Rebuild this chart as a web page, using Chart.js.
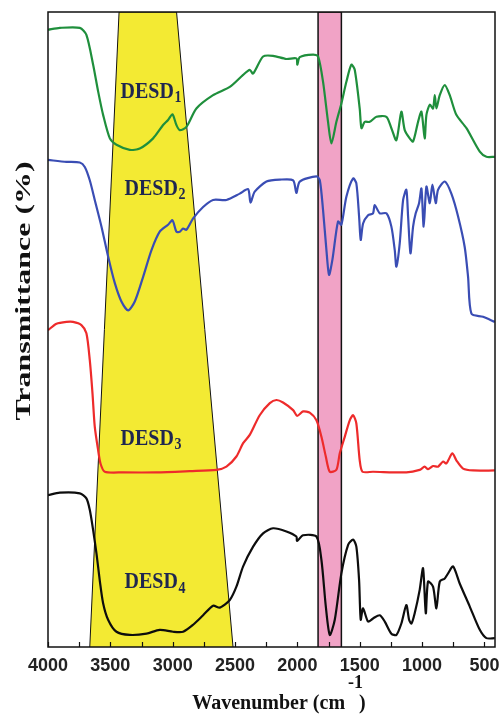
<!DOCTYPE html>
<html>
<head>
<meta charset="utf-8">
<script src="https://cdn.jsdelivr.net/npm/chart.js@4.4.0/dist/chart.umd.min.js"></script>
<style>
  html, body { margin: 0; padding: 0; background: #fff; }
  #wrap { width: 499px; height: 714px; }
</style>
</head>
<body>
<div id="wrap"><canvas id="grafico" width="499" height="714"></canvas></div>
<script>
// Espectros FTIR (transmitância deslocada, 0-100)
const wnDESD1 = [4000,3905,3745,3692,3638,3598,3558,3504,3451,3344,3264,3157,3077,3037,3002,2970,2943,2890,2810,2676,2542,2435,2382,2355,2275,2195,2088,2008,2000,1981,1874,1834,1794,1754,1727,1687,1647,1607,1567,1540,1500,1486,1460,1420,1366,1286,1246,1206,1166,1139,1099,1072,1032,1005,979,965,938,912,898,885,858,818,778,725,644,537,484,417];
const tDESD1  = [97.2,97.5,97.5,96.4,91.7,87.5,83.8,80.1,79.1,78.3,78.5,80.1,82.2,83.0,83.9,82.2,81.4,81.9,84.8,86.9,88.2,90.1,90.9,90.3,93.0,93.1,92.6,92.7,91.7,92.9,93.3,93.0,89.0,82.7,79.3,82.7,85.6,89.0,91.7,90.9,84.8,81.7,82.7,82.7,83.5,83.5,81.7,79.8,84.3,81.4,80.1,79.6,82.7,84.3,80.1,83.8,85.4,84.8,86.9,84.8,86.9,88.5,86.9,83.8,81.7,78.0,77.2,77.2];

const wnDESD2 = [4000,3852,3745,3705,3665,3625,3571,3518,3464,3411,3357,3304,3237,3170,3104,3037,3002,2970,2943,2916,2890,2836,2756,2676,2569,2462,2395,2376,2342,2248,2141,2034,2008,1981,1847,1820,1794,1767,1746,1719,1674,1647,1607,1553,1527,1505,1492,1473,1433,1393,1380,1339,1286,1246,1219,1206,1179,1152,1126,1112,1093,1072,1051,1024,1005,987,965,938,917,890,872,818,765,711,658,631,604,511,417];
const tDESD2  = [76.7,76.4,76.3,75.6,73.5,70.4,66.2,61.5,57.3,54.4,53.0,54.4,58.3,62.5,65.4,66.5,67.2,65.4,65.4,65.9,65.7,67.5,69.3,70.4,70.4,71.4,72.1,70.0,71.7,73.3,73.6,73.5,71.5,73.3,74.1,73.5,68.8,62.5,58.6,61.0,67.0,66.5,70.9,73.8,73.0,67.8,64.1,66.7,68.0,68.3,69.6,68.3,68.3,66.2,62.5,59.9,63.6,70.4,72.0,67.8,62.0,66.2,68.3,69.9,72.2,66.2,72.5,69.9,72.8,69.9,72.0,73.3,71.4,67.8,63.0,58.3,52.5,52.0,51.2];

const wnDESD3 = [4000,3932,3852,3799,3732,3692,3665,3643,3625,3598,3579,3545,3398,3130,2863,2649,2569,2489,2435,2382,2302,2221,2168,2115,2034,2002,1954,1901,1847,1807,1772,1740,1687,1660,1620,1580,1553,1527,1500,1478,1393,1126,1019,979,952,912,872,831,805,757,725,671,591,417];
const tDESD3  = [49.9,50.9,51.2,51.2,50.7,49.4,45.2,39.9,34.7,31.0,28.9,27.6,27.5,27.5,27.7,27.9,28.4,30.0,32.1,33.4,36.5,38.4,38.9,38.5,37.3,36.4,37.1,36.9,35.7,33.1,30.0,27.6,27.9,30.5,33.1,35.7,36.5,35.2,29.4,27.6,27.6,27.5,27.9,28.4,28.0,28.5,28.4,29.2,28.9,30.5,29.4,28.1,27.8,27.8];

const wnDESD4 = [4000,3905,3745,3692,3665,3638,3611,3585,3558,3518,3451,3344,3210,3104,2997,2916,2836,2756,2676,2622,2542,2489,2435,2355,2275,2195,2088,2008,2002,1954,1847,1807,1772,1740,1700,1647,1593,1553,1527,1505,1492,1473,1433,1393,1339,1299,1246,1206,1166,1126,1104,1085,1059,1019,992,970,952,912,885,858,818,791,751,698,618,537,484,417];
const tDESD4  = [23.9,24.3,24.2,23.4,21.6,18.4,14.7,10.5,6.9,4.3,2.4,1.9,2.1,2.7,2.4,2.4,3.5,5.0,6.5,6.2,7.4,9.5,12.7,15.8,17.9,18.7,18.2,17.4,16.7,17.6,17.4,13.7,6.4,1.9,4.3,11.6,16.1,16.9,15.8,10.5,4.3,6.1,4.0,4.5,5.0,4.0,2.1,1.9,3.7,6.6,4.3,3.7,5.3,9.0,12.4,5.3,10.3,9.5,6.1,10.3,10.8,11.6,12.7,10.0,6.4,2.7,1.4,1.4];

// Regiões destacadas (trapézio amarelo e faixa rosa)
const wnYellow = [3665,3430,2969,2516];
const tYellow  = [0,100,100,0];
const wnPink   = [1834,1834,1647,1647];
const tPink    = [0,100,100,0];

// Eixo x
const tickValues = [4000,3750,3500,3250,3000,2750,2500,2250,2000,1750,1500,1250,1000,750,500];

// Rótulos das curvas
const curveNames = ['DESD','DESD','DESD','DESD'];
const curveSubs  = ['1','2','3','4'];
const labelWn    = [3176,3144,3176,3144];
const labelT     = [87.4,72.1,32.8,10.2];

function pares(xs, ys) {
    return xs.map((x, i) => ({ x: x, y: ys[i] }));
}

function curva(xs, ys, cor) {
    return {
        data: pares(xs, ys),
        borderColor: cor,
        borderWidth: 2.2,
        pointRadius: 0,
        fill: false,
        tension: 0.25,
        order: 1
    };
}

// Plugin: moldura, ticks internos, rótulos e títulos dos eixos
const extras = {
    id: 'extras',
    afterDraw(chart) {
        const ctx = chart.ctx;
        const a = chart.chartArea;
        const xs = chart.scales.x;
        const ys = chart.scales.y;

        ctx.save();
        ctx.strokeStyle = '#111';
        ctx.lineWidth = 1.5;
        ctx.strokeRect(a.left, a.top, a.right - a.left, a.bottom - a.top);

        // ticks para dentro
        ctx.lineWidth = 1.2;
        tickValues.forEach(v => {
            const px = Math.round(xs.getPixelForValue(v)) + 0.5;
            ctx.beginPath();
            ctx.moveTo(px, a.bottom);
            ctx.lineTo(px, a.bottom - 5);
            ctx.stroke();
        });

        // rótulos DESD
        ctx.fillStyle = '#1e2650';
        ctx.textBaseline = 'middle';
        ctx.textAlign = 'left';
        curveNames.forEach((nome, i) => {
            const cx = xs.getPixelForValue(labelWn[i]);
            const cy = ys.getPixelForValue(labelT[i]);
            ctx.font = 'bold 20px "Liberation Serif"';
            const w1 = ctx.measureText(nome).width;
            ctx.font = 'bold 14px "Liberation Serif"';
            const w2 = ctx.measureText(curveSubs[i]).width;
            ctx.save();
            ctx.translate(cx, cy);
            ctx.scale(1, 1.2);
            const x0 = -(w1 + w2) / 2;
            ctx.font = 'bold 20px "Liberation Serif"';
            ctx.fillText(nome, x0, 0);
            ctx.font = 'bold 14px "Liberation Serif"';
            ctx.fillText(curveSubs[i], x0 + w1 + 0.5, 5);
            ctx.restore();
        });

        // título do eixo y
        ctx.fillStyle = '#111';
        ctx.save();
        ctx.translate(30, 291);
        ctx.rotate(-Math.PI / 2);
        ctx.scale(1.52, 1);
        ctx.font = 'bold 21px "Liberation Serif"';
        ctx.textAlign = 'center';
        ctx.textBaseline = 'alphabetic';
        ctx.fillText('Transmittance (%)', 0, 0);
        ctx.restore();

        // título do eixo x com sobrescrito
        const t1 = 'Wavenumber (cm ';
        const t2 = '-1';
        const t3 = ')';
        ctx.font = 'bold 20px "Liberation Serif"';
        const w1 = ctx.measureText(t1).width;
        const w3 = ctx.measureText(t3).width;
        ctx.font = 'bold 18px "Liberation Serif"';
        const w2 = ctx.measureText(t2).width;
        let x = 282 - (w1 + w2 + w3) / 2;
        const base = 709;
        ctx.textAlign = 'left';
        ctx.textBaseline = 'alphabetic';
        ctx.font = 'bold 20px "Liberation Serif"';
        ctx.fillText(t1, x, base);
        x += w1 - 2;
        ctx.font = 'bold 18px "Liberation Serif"';
        ctx.fillText(t2, x, base - 21);
        x += w2 - 4;
        ctx.font = 'bold 20px "Liberation Serif"';
        ctx.fillText(t3, x, base);
        ctx.restore();
    }
};

const ctx = document.getElementById('grafico').getContext('2d');
const grafico = new Chart(ctx, {
    type: 'line',
    data: {
        datasets: [
            curva(wnDESD1, tDESD1, '#1f8f3c'),
            curva(wnDESD2, tDESD2, '#3a4db4'),
            curva(wnDESD3, tDESD3, '#ee2b2b'),
            curva(wnDESD4, tDESD4, '#0d0d0d'),
            {
                data: pares(wnPink, tPink),
                borderColor: '#111',
                borderWidth: 1.5,
                backgroundColor: '#f1a3c6',
                pointRadius: 0,
                fill: 'origin',
                tension: 0,
                order: 5
            },
            {
                data: pares(wnYellow, tYellow),
                borderColor: '#111',
                borderWidth: 1,
                backgroundColor: '#f3ea33',
                pointRadius: 0,
                fill: 'origin',
                tension: 0,
                order: 6
            }
        ]
    },
    options: {
        responsive: false,
        animation: false,
        layout: { padding: { left: 48, right: 4, top: 12, bottom: 0 } },
        plugins: {
            legend: { display: false },
            tooltip: { enabled: false }
        },
        scales: {
            x: {
                type: 'linear',
                reverse: true,
                min: 415,
                max: 4000,
                afterBuildTicks: (scale) => {
                    scale.ticks = tickValues.map(v => ({ value: v }));
                },
                afterFit: (scale) => {
                    scale.height = 67;
                    scale.paddingLeft = 0;
                    scale.paddingRight = 0;
                },
                grid: { display: false, drawTicks: false },
                border: { display: false },
                ticks: {
                    autoSkip: false,
                    maxRotation: 0,
                    padding: 8,
                    color: '#222',
                    font: { family: '"Liberation Sans"', size: 18, weight: 'bold' },
                    callback: (v) => (v % 500 === 0 ? String(v) : '')
                }
            },
            y: {
                display: false,
                min: 0,
                max: 100
            }
        }
    },
    plugins: [extras]
});
</script>
</body>
</html>
